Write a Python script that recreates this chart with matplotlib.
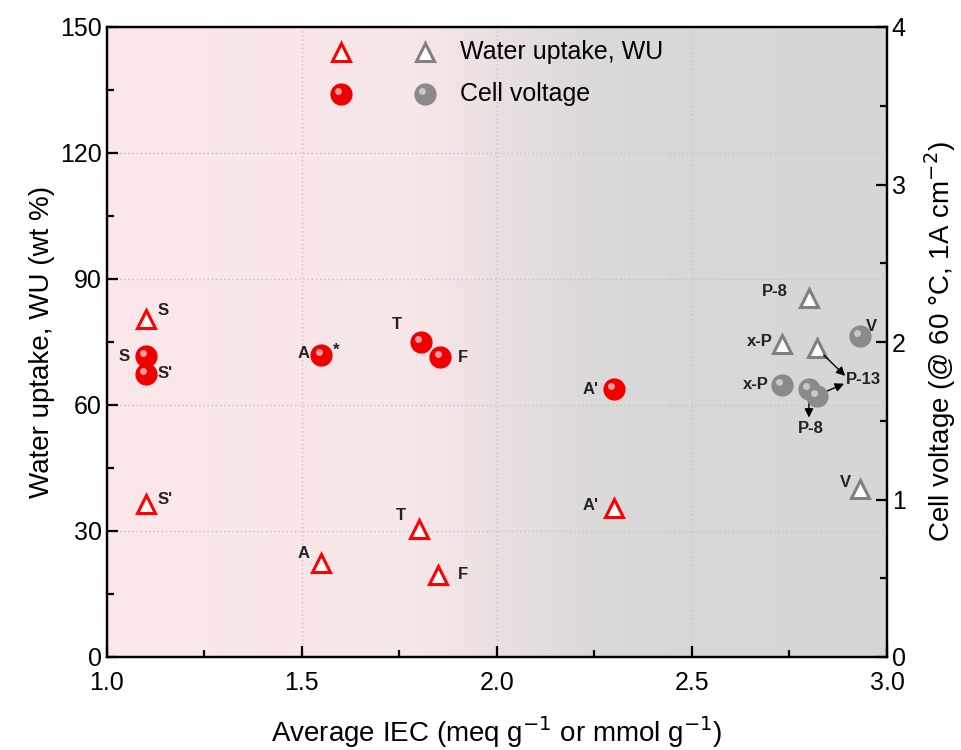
import numpy as np
import matplotlib.pyplot as plt
from matplotlib.colors import LinearSegmentedColormap
from matplotlib.transforms import ScaledTranslation

plt.rcParams['font.family'] = ['Liberation Sans', 'DejaVu Sans']

# water uptake (left axis), red = group 1, gray = group 2
wu_red_x = [1.10, 1.10, 1.55, 1.80, 1.85, 2.30]
wu_red_y = [80.5, 36.5, 22.5, 30.5, 19.5, 35.5]
wu_red_lab = ["S", "S'", "A", "T", "F", "A'"]

wu_gray_x = [2.80, 2.73, 2.82, 2.93]
wu_gray_y = [85.5, 74.5, 73.5, 40.0]
wu_gray_lab = ["P-8", "x-P", "P-13", "V"]

# cell voltage (right axis)
cv_red_x = [1.10, 1.10, 1.55, 1.805, 1.855, 2.30]
cv_red_y = [1.91, 1.80, 1.92, 2.00, 1.905, 1.70]
cv_red_lab = ["S", "S'", "A*", "T", "F", "A'"]

cv_gray_x = [2.93, 2.73, 2.80, 2.82]
cv_gray_y = [2.04, 1.73, 1.70, 1.66]
cv_gray_lab = ["V", "x-P", "P-8", "P-13"]

fig = plt.figure(figsize=(9.62, 7.5), dpi=100)
ax = fig.add_axes([0.111, 0.124, 0.811, 0.840])
ax2 = ax.twinx()

# background: pink fading into gray
cmap = LinearSegmentedColormap.from_list(
    "bg", [(0.0, "#fae8ea"), (0.40, "#f7e6e8"), (0.52, "#e8dfe0"),
           (0.62, "#dcd9d9"), (0.72, "#d8d8d8"), (1.0, "#d6d6d6")])
grad = np.linspace(0, 1, 400).reshape(1, -1)
ax.imshow(grad, cmap=cmap, extent=[1.0, 3.0, 0, 150], aspect="auto", zorder=0)

ax.set_xlim(1.0, 3.0)
ax.set_ylim(0, 150)
ax2.set_ylim(0, 4)
ax.set_xticks([1.0, 1.5, 2.0, 2.5, 3.0])
ax.set_xticks([1.25, 1.75, 2.25, 2.75], minor=True)
ax.set_yticks([0, 30, 60, 90, 120, 150])
ax.set_yticks([15, 45, 75, 105, 135], minor=True)
ax2.set_yticks([0, 1, 2, 3, 4])
ax2.set_yticks([0.5, 1.5, 2.5, 3.5], minor=True)

ax.grid(True, which="major", linestyle=(0, (1, 2)), color="#c4c4c4", linewidth=1, zorder=1)

for a in (ax, ax2):
    a.tick_params(which="major", direction="in", length=8, width=1.6, labelsize=18)
    a.tick_params(which="minor", direction="in", length=5, width=1.6)
    for s in a.spines.values():
        s.set_linewidth(1.6)
ax.tick_params(axis="x", pad=10)
ax.xaxis.set_major_formatter(plt.FormatStrFormatter("%.1f"))

tri = dict(marker="^", linestyle="none", markersize=13, markerfacecolor="white",
           markeredgewidth=2.2, zorder=4)
ax.plot(wu_red_x, wu_red_y, markeredgecolor="#ff0000", **tri)
ax.plot(wu_gray_x, wu_gray_y, markeredgecolor="#808080", **tri)


def balls(axis, xs, ys, color, shine):
    shift = axis.transData + ScaledTranslation(-2 / 72, 2 / 72, fig.dpi_scale_trans)
    axis.plot(xs, ys, "o", markersize=15, color=color, markeredgecolor=color, zorder=5)
    axis.plot(xs, ys, "o", markersize=5, color=shine, markeredgewidth=0, alpha=0.85,
              zorder=6, transform=shift)


balls(ax2, cv_red_x, cv_red_y, "#ee0000", "#ffb8b8")
balls(ax2, cv_gray_x, cv_gray_y, "#8a8a8a", "#d4d4d4")

lab = dict(fontsize=12, fontweight="bold", color="#222222")
# labels for water uptake
ax.text(1.13, 81.5, "S", **lab)
ax.text(1.13, 36.5, "S'", **lab)
ax.text(1.49, 23.5, "A", **lab)
ax.text(1.74, 32.5, "T", **lab)
ax.text(1.90, 18.5, "F", **lab)
ax.text(2.22, 35, "A'", **lab)
ax.text(2.68, 86, "P-8", **lab)
ax.text(2.64, 74, "x-P", **lab)
ax.text(2.88, 40.5, "V", **lab)
# labels for cell voltage
ax2.text(1.03, 1.88, "S", **lab)
ax2.text(1.13, 1.77, "S'", **lab)
ax2.text(1.49, 1.90, "A", **lab)
ax2.text(1.58, 1.92, "*", **lab)
ax2.text(1.73, 2.08, "T", **lab)
ax2.text(1.90, 1.87, "F", **lab)
ax2.text(2.22, 1.67, "A'", **lab)
ax2.text(2.945, 2.07, "V", **lab)
ax2.text(2.63, 1.70, "x-P", **lab)

arrow = dict(arrowstyle="-|>", color="black", lw=1, mutation_scale=13)
ax2.annotate("", xy=(2.893, 1.785), xytext=(2.82, 73.5 / 37.5),
             arrowprops=dict(arrow, shrinkA=7, shrinkB=0))
ax2.annotate("", xy=(2.89, 1.735), xytext=(2.82, 1.66),
             arrowprops=dict(arrow, shrinkA=8, shrinkB=0))
ax2.text(2.895, 1.76, "P-13", ha="left", va="center", **lab)
ax2.annotate("", xy=(2.80, 1.52), xytext=(2.80, 1.70),
             arrowprops=dict(arrow, shrinkA=6, shrinkB=0))
ax2.text(2.805, 1.50, "P-8", ha="center", va="top", **lab)

# legend built by hand
ax.plot([1.6], [144], markeredgecolor="#ff0000", **tri)
ax.plot([1.815], [144], markeredgecolor="#808080", **tri)
balls(ax, [1.6], [134], "#ee0000", "#ffb8b8")
balls(ax, [1.815], [134], "#8a8a8a", "#d4d4d4")
ax.text(1.905, 144, "Water uptake, WU", fontsize=18, va="center")
ax.text(1.905, 134, "Cell voltage", fontsize=18, va="center")

ax.set_xlabel("Average IEC (meq g$^{-1}$ or mmol g$^{-1}$)", fontsize=20, labelpad=14)
ax.set_ylabel("Water uptake, WU (wt %)", fontsize=20, labelpad=4)
ax2.set_ylabel("Cell voltage (@ 60 \u00b0C, 1A cm$^{-2}$)", fontsize=20, labelpad=12)

fig.savefig("out.png", dpi=100)
